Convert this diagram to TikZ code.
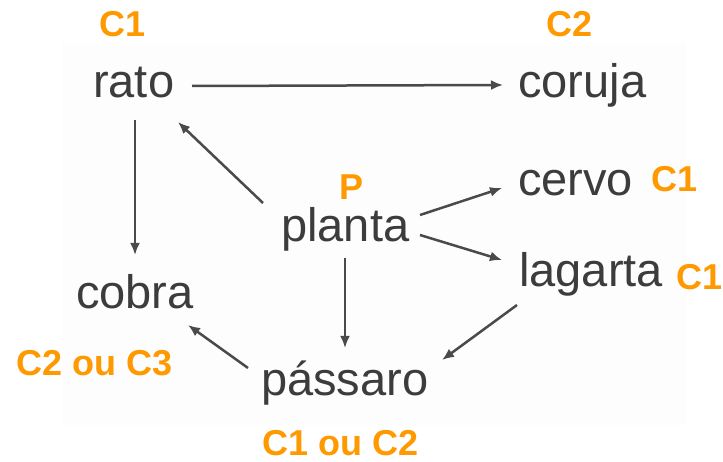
\documentclass[tikz,border=0pt]{standalone}
\usepackage{fontspec}
\setmainfont{Liberation Sans}
\usetikzlibrary{arrows.meta}
\definecolor{txtgray}{HTML}{3C3C3C}
\definecolor{linegray}{HTML}{4A4A4A}
\definecolor{lblorange}{HTML}{FF9900}
\definecolor{bggray}{HTML}{FDFDFD}
\tikzset{
  animal/.style={anchor=base west, inner sep=0pt, text=txtgray, font=\fontsize{47}{47}\selectfont},
  level/.style={anchor=base west, inner sep=0pt, text=lblorange, font=\fontsize{36}{36}\selectfont\bfseries},
  arr/.style={draw=linegray, line width=2.5pt, -{Latex[length=12pt,width=10pt]}}
}
\begin{document}
\begin{tikzpicture}[x=1pt,y=-1pt]
\useasboundingbox (0,0) rectangle (723,462);
\fill[bggray] (62,43) rectangle (686,425);
% animals
\node[animal] (rato) at (93,98) {rato};
\node[animal] (coruja) at (518,98) {coruja};
\node[animal] (cervo) at (518,196) {cervo};
\node[animal] (planta) at (281,242) {planta};
\node[animal] (lagarta) at (519,287) {lagarta};
\node[animal] (cobra) at (76,309) {cobra};
\node[animal] (passaro) at (261,395) {pássaro};
% trophic levels
\node[level] (lrato) at (99,37) {C1};
\node[level] (lcoruja) at (546,37) {C2};
\node[level] (lplanta) at (339,200) {P};
\node[level] (lcervo) at (651,192) {C1};
\node[level] (llagarta) at (676,290) {C1};
\node[level] (lcobra) at (16,375) {C2 ou C3};
\node[level] (lpassaro) at (262,455) {C1 ou C2};
% arrows
\draw[arr] ([shift={(99,-12)}]rato.base west) -- ([shift={(-15,-13)}]coruja.base west);
\draw[arr] ([shift={(42,22)}]rato.base west) -- ([shift={(59,-54)}]cobra.base west);
\draw[arr] ([shift={(-18,-39)}]planta.base west) -- ([shift={(85,24)}]rato.base west);
\draw[arr] ([shift={(139,-27)}]planta.base west) -- ([shift={(-16,-8)}]cervo.base west);
\draw[arr] ([shift={(139,-7)}]planta.base west) -- ([shift={(-17,-27)}]lagarta.base west);
\draw[arr] ([shift={(64,16)}]planta.base west) -- ([shift={(84,-47)}]passaro.base west);
\draw[arr] ([shift={(-2,18)}]lagarta.base west) -- ([shift={(181,-35)}]passaro.base west);
\draw[arr] ([shift={(-13,-27)}]passaro.base west) -- ([shift={(112,16)}]cobra.base west);
\end{tikzpicture}
\end{document}
